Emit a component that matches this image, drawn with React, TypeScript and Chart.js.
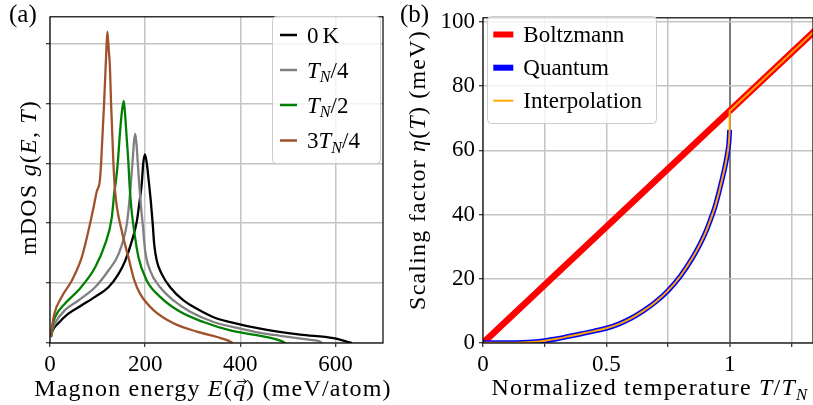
import React, { useEffect, useRef } from 'react';
import { Chart, registerables } from 'chart.js';
Chart.register(...registerables);

const FAM = '"Liberation Serif", "Times New Roman", Times, serif';

// ---------- Panel (a): magnon DOS ----------
const energy0K = [2, 5, 17.5, 38.6, 66.7, 94.7, 122.8, 143.8, 158, 172, 182.5, 188, 193, 196, 199.5, 203.5, 207, 212, 216, 219, 224.6, 235, 252.6, 280.6, 308.8, 343.8, 379, 442, 526, 596, 625, 635];
const dos0K = [0.1, 0.2, 0.33, 0.49, 0.63, 0.77, 0.93, 1.15, 1.37, 1.7, 2.03, 2.35, 2.67, 3.0, 3.15, 3.0, 2.75, 2.36, 1.98, 1.65, 1.37, 1.15, 0.93, 0.71, 0.57, 0.43, 0.35, 0.24, 0.14, 0.08, 0.02, 0];

const energyQuarter = [2, 5, 10.5, 31.6, 59.6, 94.7, 122.8, 143.8, 161.4, 166, 170, 173.3, 176.5, 179, 181.5, 184.6, 187.4, 191, 195, 200, 210.5, 231.6, 259.6, 294.7, 343.8, 400, 442, 484, 540, 565, 572];
const dosQuarter = [0.1, 0.22, 0.33, 0.55, 0.71, 0.93, 1.21, 1.48, 1.98, 2.3, 2.67, 3.0, 3.35, 3.49, 3.35, 3.0, 2.67, 2.3, 1.98, 1.54, 1.21, 0.93, 0.71, 0.52, 0.35, 0.24, 0.17, 0.12, 0.06, 0.03, 0];

const energyHalf = [2, 5, 10.5, 31.6, 59.6, 94.7, 115.8, 129.8, 135.4, 138, 142.4, 147, 151, 155, 158, 161, 164.9, 167, 171, 175, 186, 203.5, 231.6, 273.7, 322.7, 379, 442, 484, 495];
const dosHalf = [0.1, 0.28, 0.43, 0.66, 0.88, 1.26, 1.65, 2.09, 2.53, 2.67, 3.0, 3.5, 3.85, 4.04, 3.8, 3.45, 3.0, 2.67, 2.25, 1.98, 1.43, 1.04, 0.77, 0.52, 0.35, 0.21, 0.12, 0.04, 0];

const energyThreeQ = [2, 4, 9.1, 24.6, 45.6, 66.7, 80.7, 91.2, 98.3, 104.6, 107.4, 113.7, 118, 120.6, 123, 126, 128.4, 133.3, 136.8, 150.9, 164.9, 177.5, 189.5, 217.5, 259.6, 308.8, 351, 375, 384];
const dosThreeQ = [0.1, 0.25, 0.49, 0.77, 1.04, 1.43, 1.87, 2.25, 2.53, 2.7, 3.0, 4.0, 4.8, 5.2, 4.95, 4.6, 4.0, 3.0, 2.53, 1.87, 1.43, 1.04, 0.82, 0.55, 0.33, 0.19, 0.1, 0.04, 0];

const energyTicks = [0, 200, 400, 600];

// ---------- Panel (b): scaling factor ----------
const tempBoltz = [0, 0.5, 1, 1.4];
const etaBoltz = [0, 36.2, 72.3, 101.2];

const tempQuant = [0, 0.1, 0.2, 0.25, 0.3, 0.35, 0.4, 0.45, 0.5, 0.55, 0.6, 0.65, 0.7, 0.75, 0.8, 0.85, 0.88, 0.9, 0.92, 0.94, 0.96, 0.98, 0.99, 0.997, 1.0];
const etaQuant = [0.05, 0.1, 0.35, 0.7, 1.3, 2.1, 2.9, 3.7, 4.6, 5.9, 7.7, 10.0, 12.8, 16.3, 20.8, 26.6, 30.8, 34.0, 37.9, 42.3, 48.0, 54.5, 58.5, 62.5, 66.4];

const tempTickLabels = ['0', '0.5', '1'];

const pts = (xs: number[], ys: number[]) => xs.map((x, i) => ({ x, y: ys[i] }));

type Seg = { t: string; it?: boolean; sub?: boolean; vec?: boolean; gap?: number };

function segFont(s: Seg, size: number) {
  const sz = s.sub ? size * 0.7 : size;
  return `${s.it ? 'italic ' : ''}${sz}px ${FAM}`;
}

function measureRich(ctx: any, segs: Seg[], size: number, ls: number) {
  let w = 0;
  for (const s of segs) {
    ctx.font = segFont(s, size);
    ctx.letterSpacing = `${ls}px`;
    w += ctx.measureText(s.t).width + (s.gap || 0);
  }
  return w;
}

function drawRich(ctx: any, segs: Seg[], x: number, y: number, size: number, align: string, ls = 0) {
  const w = measureRich(ctx, segs, size, ls);
  let cx = align === 'center' ? x - w / 2 : align === 'right' ? x - w : x;
  ctx.textBaseline = 'alphabetic';
  ctx.textAlign = 'left';
  ctx.fillStyle = '#000';
  for (const s of segs) {
    ctx.font = segFont(s, size);
    ctx.letterSpacing = `${ls}px`;
    const dy = s.sub ? size * 0.2 : 0;
    ctx.fillText(s.t, cx, y + dy);
    const sw = ctx.measureText(s.t).width;
    if (s.vec) {
      const ay = y - size * 0.6;
      const x1 = cx + sw * 0.3;
      const x2 = cx + sw * 0.95 + 1;
      ctx.save();
      ctx.strokeStyle = '#000';
      ctx.lineWidth = 1;
      ctx.beginPath();
      ctx.moveTo(x1, ay);
      ctx.lineTo(x2, ay);
      ctx.moveTo(x2 - 3, ay - 2.5);
      ctx.lineTo(x2, ay);
      ctx.lineTo(x2 - 3, ay + 2.5);
      ctx.stroke();
      ctx.restore();
    }
    cx += sw + (s.gap || 0);
  }
  ctx.letterSpacing = '0px';
}

function legendBox(ctx: any, x: number, y: number, w: number, h: number) {
  ctx.save();
  ctx.beginPath();
  ctx.roundRect(x + 0.5, y + 0.5, w, h, 4);
  ctx.fillStyle = 'rgba(255,255,255,0.8)';
  ctx.fill();
  ctx.strokeStyle = '#cccccc';
  ctx.lineWidth = 1;
  ctx.stroke();
  ctx.restore();
}

const framePlugin = {
  id: 'frame',
  afterDatasetsDraw(chart: any) {
    const { ctx, chartArea } = chart;
    const { left, top, right, bottom } = chartArea;
    ctx.save();
    ctx.strokeStyle = '#000';
    ctx.lineWidth = 1.2;
    ctx.strokeRect(left, top, right - left, bottom - top);
    ctx.restore();
  },
};

const legendA = [
  { color: '#000000', segs: [{ t: '0', gap: 4 }, { t: 'K' }] as Seg[] },
  { color: '#808080', segs: [{ t: 'T', it: true }, { t: 'N', it: true, sub: true }, { t: '/4' }] as Seg[] },
  { color: '#008000', segs: [{ t: 'T', it: true }, { t: 'N', it: true, sub: true }, { t: '/2' }] as Seg[] },
  { color: '#a0522d', segs: [{ t: '3' }, { t: 'T', it: true }, { t: 'N', it: true, sub: true }, { t: '/4' }] as Seg[] },
];

const legendB = [
  { color: '#ff0000', width: 6, segs: [{ t: 'Boltzmann' }] as Seg[] },
  { color: '#0000ff', width: 6, segs: [{ t: 'Quantum' }] as Seg[] },
  { color: '#ffa500', width: 2, segs: [{ t: 'Interpolation' }] as Seg[] },
];

const decorA = {
  id: 'decorA',
  afterDraw(chart: any) {
    const ctx = chart.ctx;
    ctx.save();
    drawRich(ctx, [{ t: '(a)' }], 9, 22, 25, 'left');
    ctx.save();
    ctx.translate(36, 177.5);
    ctx.rotate(-Math.PI / 2);
    drawRich(ctx, [{ t: 'mDOS ' }, { t: 'g', it: true }, { t: '(' }, { t: 'E', it: true }, { t: ', ' }, { t: 'T', it: true }, { t: ')' }], 0, 0, 24, 'center', 1.2);
    ctx.restore();
    drawRich(ctx, [{ t: 'Magnon energy ' }, { t: 'E', it: true }, { t: '(' }, { t: 'q', it: true, vec: true }, { t: ') (meV/atom)' }], 213, 396, 24, 'center', 1.2);
    legendBox(ctx, 272, 16, 108, 147);
    const ys = [35, 70, 105, 140.5];
    legendA.forEach((e, i) => {
      ctx.strokeStyle = e.color;
      ctx.lineWidth = 2.5;
      ctx.beginPath();
      ctx.moveTo(280, ys[i]);
      ctx.lineTo(297, ys[i]);
      ctx.stroke();
      drawRich(ctx, e.segs, 307, ys[i] + 7.5, 23, 'left');
    });
    ctx.restore();
  },
};

const decorB = {
  id: 'decorB',
  afterDraw(chart: any) {
    const ctx = chart.ctx;
    ctx.save();
    drawRich(ctx, [{ t: '(b)' }], 0, 22, 25, 'left');
    ctx.save();
    ctx.translate(25, 170);
    ctx.rotate(-Math.PI / 2);
    drawRich(ctx, [{ t: 'Scaling factor ' }, { t: 'η', it: true }, { t: '(' }, { t: 'T', it: true }, { t: ') (meV)' }], 0, 0, 24, 'center', 1.2);
    ctx.restore();
    drawRich(ctx, [{ t: 'Normalized temperature ' }, { t: 'T', it: true }, { t: '/' }, { t: 'T', it: true }, { t: 'N', it: true, sub: true }], 250, 395, 24, 'center', 1.2);
    legendBox(ctx, 87, 16, 169, 107);
    const ys = [34.5, 67.7, 100.7];
    legendB.forEach((e, i) => {
      ctx.strokeStyle = e.color;
      ctx.lineWidth = e.width;
      ctx.lineCap = 'butt';
      ctx.beginPath();
      ctx.moveTo(93.3, ys[i]);
      ctx.lineTo(113.3, ys[i]);
      ctx.stroke();
      drawRich(ctx, e.segs, 123.3, ys[i] + 7.5, 23, 'left');
    });
    ctx.restore();
  },
};

const gridCol = '#c4c4c4';

function App() {
  const refA = useRef<HTMLCanvasElement>(null);
  const refB = useRef<HTMLCanvasElement>(null);

  useEffect(() => {
    const lineDs = (label: string, xs: number[], ys: number[], color: string, order: number) => ({
      label,
      data: pts(xs, ys),
      borderColor: color,
      backgroundColor: color,
      borderWidth: 2.3,
      pointRadius: 0,
      cubicInterpolationMode: 'monotone',
      clip: 0,
      order,
    });

    const chartA = new Chart(refA.current as HTMLCanvasElement, {
      type: 'line',
      data: {
        datasets: [
          lineDs('0 K', energy0K, dos0K, '#000000', 3),
          lineDs('T_N/4', energyQuarter, dosQuarter, '#808080', 2),
          lineDs('T_N/2', energyHalf, dosHalf, '#008000', 1),
          lineDs('3T_N/4', energyThreeQ, dosThreeQ, '#a0522d', 0),
        ] as any,
      },
      options: {
        animation: false,
        responsive: false,
        devicePixelRatio: 1,
        events: [],
        layout: { padding: { top: 13, right: 17, left: 0, bottom: 0 } },
        plugins: { legend: { display: false }, tooltip: { enabled: false } },
        scales: {
          x: {
            type: 'linear',
            min: 0,
            max: 700,
            afterFit: (s: any) => { s.height = 62; },
            afterBuildTicks: (s: any) => { s.ticks = energyTicks.map((v) => ({ value: v })); },
            ticks: {
              autoSkip: false,
              maxRotation: 0,
              includeBounds: false,
              color: '#000',
              padding: 4,
              font: { family: FAM, size: 23 },
              callback: (v: any) => String(v),
            },
            grid: { color: gridCol, lineWidth: 1.5, tickColor: '#000', tickLength: 4, tickWidth: 1 },
            border: { display: false },
          },
          y: {
            type: 'linear',
            min: 0,
            max: 5.446,
            afterFit: (s: any) => { s.width = 50; },
            ticks: { stepSize: 1, includeBounds: false, callback: () => '', font: { family: FAM, size: 23 } },
            grid: { color: gridCol, lineWidth: 1.5, tickColor: '#000', tickLength: 4, tickWidth: 1 },
            border: { display: false },
          },
        },
      } as any,
      plugins: [framePlugin, decorA],
    });

    const boltzPts = pts(tempBoltz, etaBoltz);
    const quantPts = pts(tempQuant, etaQuant);
    const lastQ = quantPts[quantPts.length - 1];
    const jumpPts = [lastQ, ...boltzPts.filter((p) => p.x >= 1)];

    const chartB = new Chart(refB.current as HTMLCanvasElement, {
      type: 'line',
      data: {
        datasets: [
          { label: 'Boltzmann', data: boltzPts, borderColor: '#ff0000', borderWidth: 6.5, pointRadius: 0, tension: 0, clip: 0, order: 3 },
          { label: 'Quantum', data: quantPts, borderColor: '#0000ff', borderWidth: 5, pointRadius: 0, cubicInterpolationMode: 'monotone', clip: 0, order: 2 },
          { label: 'Interpolation', data: quantPts, borderColor: '#ffa500', borderWidth: 2, pointRadius: 0, cubicInterpolationMode: 'monotone', clip: 0, order: 1 },
          { label: 'Interpolation ', data: jumpPts, borderColor: '#ffa500', borderWidth: 2, pointRadius: 0, tension: 0, clip: 0, order: 0 },
        ] as any,
      },
      options: {
        animation: false,
        responsive: false,
        devicePixelRatio: 1,
        events: [],
        layout: { padding: { top: 13, right: 0, left: 0, bottom: 0 } },
        plugins: { legend: { display: false }, tooltip: { enabled: false } },
        scales: {
          x: {
            type: 'linear',
            min: 0,
            max: 1.338,
            afterFit: (s: any) => { s.height = 62; },
            ticks: {
              stepSize: 0.25,
              autoSkip: false,
              maxRotation: 0,
              includeBounds: false,
              color: '#000',
              padding: 4,
              font: { family: FAM, size: 23 },
              callback: (v: any) => {
                const idx = [0, 0.5, 1].findIndex((t) => Math.abs(t - v) < 1e-9);
                return idx >= 0 ? tempTickLabels[idx] : '';
              },
            },
            grid: {
              color: (c: any) => (c.tick && Math.abs(c.tick.value - 1) < 1e-9 ? '#7a7a7a' : gridCol),
              lineWidth: (c: any) => (c.tick && Math.abs(c.tick.value - 1) < 1e-9 ? 2 : 1.5),
              tickColor: '#000',
              tickLength: 4,
              tickWidth: 1,
            },
            border: { display: false },
          },
          y: {
            type: 'linear',
            min: 0,
            max: 101.3,
            afterFit: (s: any) => { s.width = 83; },
            ticks: { stepSize: 20, includeBounds: false, color: '#000', padding: 4, font: { family: FAM, size: 23 } },
            grid: { color: gridCol, lineWidth: 1.5, tickColor: '#000', tickLength: 4, tickWidth: 1 },
            border: { display: false },
          },
        },
      } as any,
      plugins: [framePlugin, decorB],
    });

    return () => {
      chartA.destroy();
      chartB.destroy();
    };
  }, []);

  return (
    <div style={{ position: 'absolute', left: 0, top: 0, width: 813, height: 405, background: '#fff', overflow: 'hidden' }}>
      <canvas ref={refA} width={400} height={405} style={{ position: 'absolute', left: 0, top: 0, width: 400, height: 405 }} />
      <canvas ref={refB} width={413} height={405} style={{ position: 'absolute', left: 400, top: 0, width: 413, height: 405 }} />
    </div>
  );
}

export default App;
